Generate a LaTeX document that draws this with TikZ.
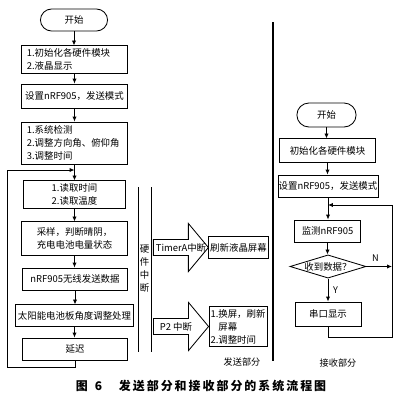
\documentclass[tikz,border=0pt]{standalone}
\usepackage{fontspec}
\setmainfont{Noto Sans CJK SC}
\usepackage{tikz}
\usetikzlibrary{calc,arrows.meta,shapes.geometric}

\tikzset{
  flowbox/.style={draw,line width=0.6pt,inner sep=1pt,minimum width=2.63cm,minimum height=0.55cm,
    font=\fontsize{6.7}{9.3}\selectfont,align=center},
  termbox/.style={flowbox,rounded corners=0.28cm},
  listbox/.style={flowbox,align=left,text width=2.38cm,inner xsep=0.125cm},
  decbox/.style={draw,diamond,aspect=3.3,inner sep=0pt,line width=0.6pt,font=\fontsize{6.7}{9.3}\selectfont},
  flow/.style={->,line width=0.6pt},
  bigarrow/.style={draw,line width=0.6pt,line join=miter},
  note/.style={font=\fontsize{6.5}{8}\selectfont},
}

\begin{document}
\begin{tikzpicture}[>={Latex[length=3.5pt,width=3pt]},x=0.025cm,y=-0.025cm]
  \useasboundingbox (0,0) rectangle (400,402);
  % sending part (left column)
  \node[termbox,minimum width=1.68cm] (start) at (74,20) {开始};
  \node[listbox,minimum height=0.68cm] (init) at (74.5,59.5) {1.初始化各硬件模块\\2.液晶显示};
  \node[flowbox,minimum height=0.6cm] (setup) at (74.5,96) {设置nRF905，发送模式};
  \node[listbox,minimum height=1.05cm] (check) at (74.5,143) {1.系统检测\\2.调整方向角、俯仰角\\3.调整时间};
  \node[flowbox,align=left,minimum width=2.53cm,minimum height=0.68cm] (read) at (74.5,194.5) {1.读取时间\\2.读取温度};
  \node[flowbox,minimum height=0.83cm] (sample) at (74.5,238.5) {采样，判断晴阴，\\充电电池电量状态};
  \node[flowbox] (send) at (75,279) {nRF905无线发送数据};
  \node[flowbox,minimum width=2.93cm,minimum height=0.53cm] (solar) at (74.5,315.5) {太阳能电池板角度调整处理};
  \node[flowbox] (delay) at (75,349) {延迟};
  \draw[flow] (start.south) -- (start.south |- init.north);
  \draw[flow] (init.south) -- (init.south |- setup.north);
  \draw[flow] (setup.south) -- (setup.south |- check.north);
  \draw[flow] (check.south) -- (check.south |- read.north);
  \draw[flow] (read.south) -- (read.south |- sample.north);
  \draw[flow] (sample.south) -- (sample.south |- send.north);
  \draw[flow] (send.south) -- (send.south |- solar.north);
  \draw[flow] (solar.south) -- (solar.south |- delay.north);
  % main loop back
  \coordinate (lpB) at (7,367);
  \coordinate (lpIn) at (74.5,170);
  \draw[flow] (delay.south) |- (lpB) |- (lpIn);

  % hardware interrupts
  \draw[line width=0.6pt] (138,187) -- (138,352);
  \draw[line width=0.6pt] (151,187) -- (151,352);
  \node[font=\fontsize{6.7}{9.3}\selectfont,align=center] (hw) at (144.5,269) {硬\\件\\中\\断};
  \node[flowbox,minimum width=1.48cm,minimum height=0.53cm] (refresh) at (238.5,247.5) {刷新液晶屏幕};
  \node[flowbox,align=left,inner xsep=0.5pt,minimum width=1.45cm,minimum height=0.98cm] (swap) at (238,326.5)
    {1.换屏，刷新\\\phantom{1.}屏幕\\2.调整时间};
  \draw[bigarrow] (refresh.west) -- ++(-20,-24) -- ++(0,16) -- ++(-35,0) -- ++(0,16) -- ++(35,0) -- ++(0,16) -- cycle;
  \draw[bigarrow] (swap.west) -- ++(-20,-24) -- ++(0,16) -- ++(-35,0) -- ++(0,16) -- ++(35,0) -- ++(0,16) -- cycle;
  \node[font=\fontsize{6.7}{8}\selectfont,inner sep=0pt] (timerA) at (181,248) {TimerA中断};
  \node[font=\fontsize{6.7}{8}\selectfont,inner sep=0pt] (p2) at (176,327) {P2 中断};
  \node[note] (sendlbl) at (242,362) {发送部分};

  % divider
  \draw[line width=1.4pt] (273,22) -- (273,361);

  % receiving part (right column)
  \node[termbox,minimum width=1.48cm,minimum height=0.6cm,rounded corners=0.3cm] (rstart) at (326.5,115) {开始};
  \node[flowbox,minimum width=2.38cm,minimum height=0.58cm] (rinit) at (327.5,150.5) {初始化各硬件模块};
  \node[flowbox,inner sep=0.5pt,minimum width=2.45cm] (rsetup) at (328,186) {设置nRF905，发送模式};
  \node[flowbox,minimum width=1.63cm] (rmon) at (327.5,231) {监测nRF905};
  \node[decbox,minimum width=1.9cm,minimum height=0.58cm] (recv) at (328,266.5) {收到数据？};
  \node[flowbox,minimum width=1.65cm,minimum height=0.6cm] (rshow) at (328,314) {串口显示};
  \draw[flow] (rstart.south) -- (rstart.south |- rinit.north);
  \draw[flow] (rinit.south) -- (rinit.south |- rsetup.north);
  \draw[flow] (rsetup.south) -- (rsetup.south |- rmon.north);
  \draw[flow] (rmon.south) -- (rmon.south |- recv.north);
  \draw[flow] (recv.south) -- (recv.south |- rshow.north) node[midway,right,note]{Y};
  \coordinate (rlpB) at (392,337);
  \coordinate (rlpIn) at (328,205);
  \draw[flow] (rshow.south) |- (rlpB) |- (rlpIn);
  \draw[flow] (recv.east) -- (recv.east -| rlpB) node[pos=0.35,above,note]{N};
  \node[note] (recvlbl) at (338,363) {接收部分};

  % caption
  \node[font=\fontsize{8.5}{10}\bfseries] (caption) at (201,386)
    {图\hspace{0.6em}6\hspace{1.4em}发\,送\,部\,分\,和\,接\,收\,部\,分\,的\,系\,统\,流\,程\,图};
\end{tikzpicture}
\end{document}
